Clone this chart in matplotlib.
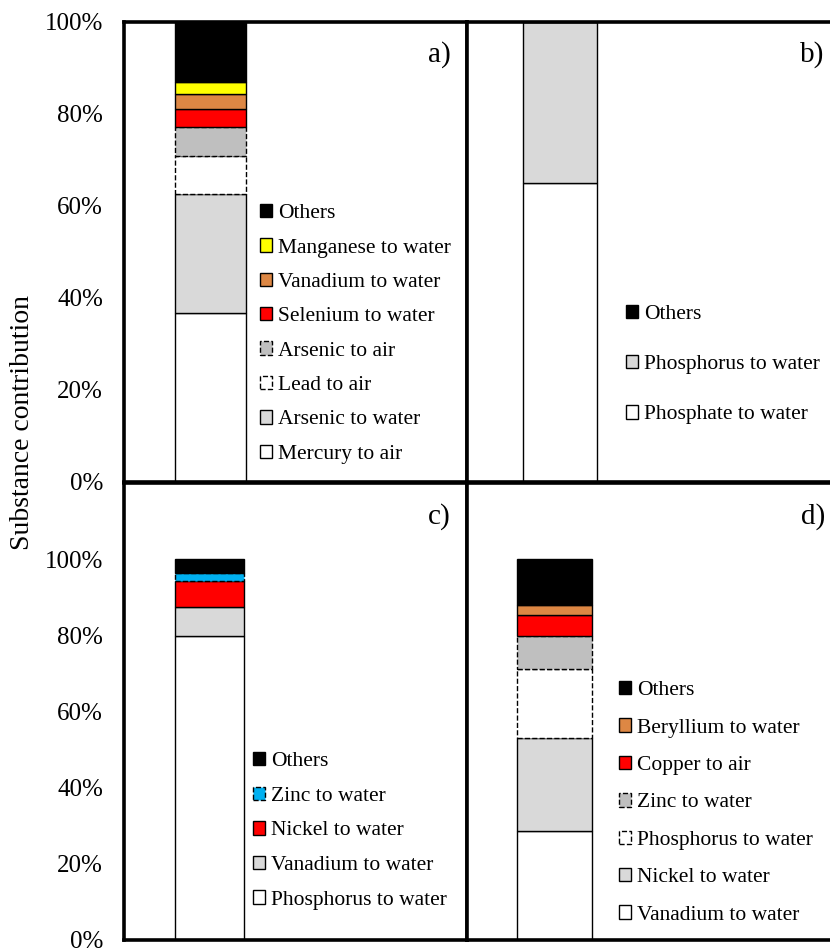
import matplotlib
matplotlib.use('Agg')
import matplotlib.pyplot as plt
from matplotlib.patches import Patch
from matplotlib.ticker import PercentFormatter

plt.rcParams['font.family'] = ['Liberation Serif', 'DejaVu Serif']

W, H = 830, 950

# a) contributions, stacked bottom to top
a_labels = ['Mercury to air', 'Arsenic to water', 'Lead to air', 'Arsenic to air',
            'Selenium to water', 'Vanadium to water', 'Manganese to water', 'Others']
a_values = [36.8, 25.8, 8.3, 6.2, 4.0, 3.2, 2.7, 13.0]
a_colors = ['white', '#d9d9d9', 'white', '#bfbfbf', '#ff0000', '#dd8744', '#ffff00', 'black']
a_dashed = [False, False, True, True, False, False, False, False]

# b)
b_labels = ['Phosphate to water', 'Phosphorus to water', 'Others']
b_values = [64.9, 35.1, 0.0]
b_colors = ['white', '#d9d9d9', 'black']
b_dashed = [False, False, False]

# c)
c_labels = ['Phosphorus to water', 'Vanadium to water', 'Nickel to water',
            'Zinc to water', 'Others']
c_values = [79.7, 7.8, 6.7, 2.2, 3.6]
c_colors = ['white', '#d9d9d9', '#ff0000', '#00b0f0', 'black']
c_dashed = [False, False, False, True, False]

# d)
d_labels = ['Vanadium to water', 'Nickel to water', 'Phosphorus to water',
            'Zinc to water', 'Copper to air', 'Beryllium to water', 'Others']
d_values = [28.7, 24.3, 18.1, 8.8, 5.4, 2.6, 12.1]
d_colors = ['white', '#d9d9d9', 'white', '#bfbfbf', '#ff0000', '#dd8744', 'black']
d_dashed = [False, False, True, True, False, False, False]


def px_box(x0, y0, x1, y1):
    # pixel box (top-left origin) -> figure fraction rect
    return [x0 / W, 1 - y1 / H, (x1 - x0) / W, (y1 - y0) / H]


def stacked(ax, labels, values, colors, dashed, xlim, ylim, tag, tag_xy,
            leg_xy, spacing):
    bottom = 0.0
    for v, c, d in zip(values, colors, dashed):
        ax.bar(0, v, 0.8, bottom=bottom, color=c, edgecolor='black',
               linewidth=1.0, linestyle='--' if d else '-', zorder=2)
        bottom += v
    ax.set_xlim(*xlim)
    ax.set_ylim(*ylim)
    ax.set_xticks([])
    for s in ax.spines.values():
        s.set_linewidth(2.6)
        s.set_color('black')
        s.set_zorder(5)
    ax.text(tag_xy[0], tag_xy[1], tag, transform=ax.transAxes,
            ha='right', va='center', fontsize=21)

    handles = [Patch(facecolor=c, edgecolor='black', linewidth=1.0,
                     linestyle='--' if d else '-', label=l)
               for l, c, d in zip(labels, colors, dashed)][::-1]
    ax.legend(handles=handles, loc='upper left',
              bbox_to_anchor=(leg_xy[0] / W, 1 - leg_xy[1] / H),
              bbox_transform=ax.figure.transFigure, frameon=False,
              fontsize=15.5, borderpad=0, borderaxespad=0,
              handlelength=0.58, handleheight=0.58, handletextpad=0.25,
              labelspacing=spacing)


fig = plt.figure(figsize=(8.3, 9.5), dpi=100)

ax_a = fig.add_axes(px_box(124, 22, 467, 482))
ax_b = fig.add_axes(px_box(467, 22, 845, 482))
ax_c = fig.add_axes(px_box(124, 483, 467, 940))
ax_d = fig.add_axes(px_box(467, 483, 845, 940))

stacked(ax_a, a_labels, a_values, a_colors, a_dashed, (-0.975, 2.89), (0, 100),
        'a)', (0.952, 0.93), (260, 204), 0.7)
stacked(ax_b, b_labels, b_values, b_colors, b_dashed, (-1.005, 3.08), (0, 100),
        'b)', (0.944, 0.93), (626, 305), 1.43)
stacked(ax_c, c_labels, c_values, c_colors, c_dashed, (-0.99, 2.985), (0, 120),
        'c)', (0.952, 0.926), (253, 752), 0.71)
stacked(ax_d, d_labels, d_values, d_colors, d_dashed, (-0.933, 3.10), (0, 120),
        'd)', (0.949, 0.926), (619, 681), 0.84)

for ax in (ax_a, ax_c):
    ax.set_yticks([0, 20, 40, 60, 80, 100])
    ax.yaxis.set_major_formatter(PercentFormatter(decimals=0))
    ax.tick_params(axis='y', length=0, pad=15, labelsize=18)
for ax in (ax_b, ax_d):
    ax.set_yticks([])

fig.text(23 / W, 1 - 422 / H, 'Substance contribution', rotation=90,
         ha='center', va='center', fontsize=20)

fig.savefig('out.png', dpi=100)
